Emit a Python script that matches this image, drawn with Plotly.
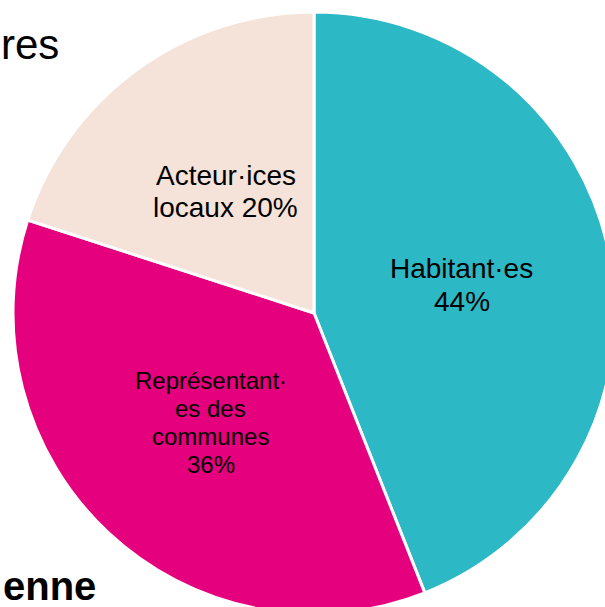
import math
import plotly.graph_objects as go

labels = ["Habitant·es", "Représentant·es des communes", "Acteur·ices locaux"]
label_lines = [["Habitant·es", "{v}%"], ["Représentant·", "es des", "communes", "{v}%"], ["Acteur·ices", "locaux {v}%"]]
values = [44, 36, 20]
colors = ["#2DB8C5", "#E5007E", "#F5E2D9"]
font_sizes = [28, 24, 28]

W, H = 640, 640
L, T = 13, 12
D = 602
FONT = "Liberation Sans, Arial, sans-serif"

fig = go.Figure(go.Pie(
    labels=labels,
    values=values,
    textinfo="none",
    marker=dict(colors=colors, line=dict(color="#FFFFFF", width=3)),
    sort=False,
    direction="clockwise",
    rotation=0,
    showlegend=False,
    hoverinfo="label+percent",
))

annotations = []
total = sum(values)
cum = 0
for lines, v, fs in zip(label_lines, values, font_sizes):
    mid = (cum + v / 2) / total * 2 * math.pi
    cum += v
    xc = 0.5 + 0.25 * math.sin(mid)
    yc = 0.5 + 0.25 * math.cos(mid)
    spacing = 1.16 * fs / D
    n = len(lines)
    for k, line in enumerate(lines):
        annotations.append(dict(
            text=line.format(v=v), xref="paper", yref="paper",
            x=xc, y=yc - (k - (n - 1) / 2) * spacing,
            xanchor="center", yanchor="middle", showarrow=False,
            font=dict(family=FONT, size=fs, color="#000000"),
        ))

annotations += [
    dict(text="res", xref="paper", yref="paper", x=(-1 - L) / D, y=1 - (70 - T) / D,
         xanchor="left", yanchor="bottom", showarrow=False,
         font=dict(family=FONT, size=42, color="#000000")),
    dict(text="<b>enne</b>", xref="paper", yref="paper", x=(1 - L) / D, y=1 - (610 - T) / D,
         xanchor="left", yanchor="bottom", showarrow=False,
         font=dict(family=FONT, size=40, color="#000000")),
]

fig.update_layout(
    width=W, height=H,
    margin=dict(l=L, t=T, r=W - L - D, b=H - T - D, pad=0),
    paper_bgcolor="#FFFFFF",
    plot_bgcolor="#FFFFFF",
    annotations=annotations,
)

fig.write_html(
    "out.html",
    post_script="document.documentElement.style.overflow='hidden';document.body.style.overflow='hidden';document.body.style.margin='0';",
)
